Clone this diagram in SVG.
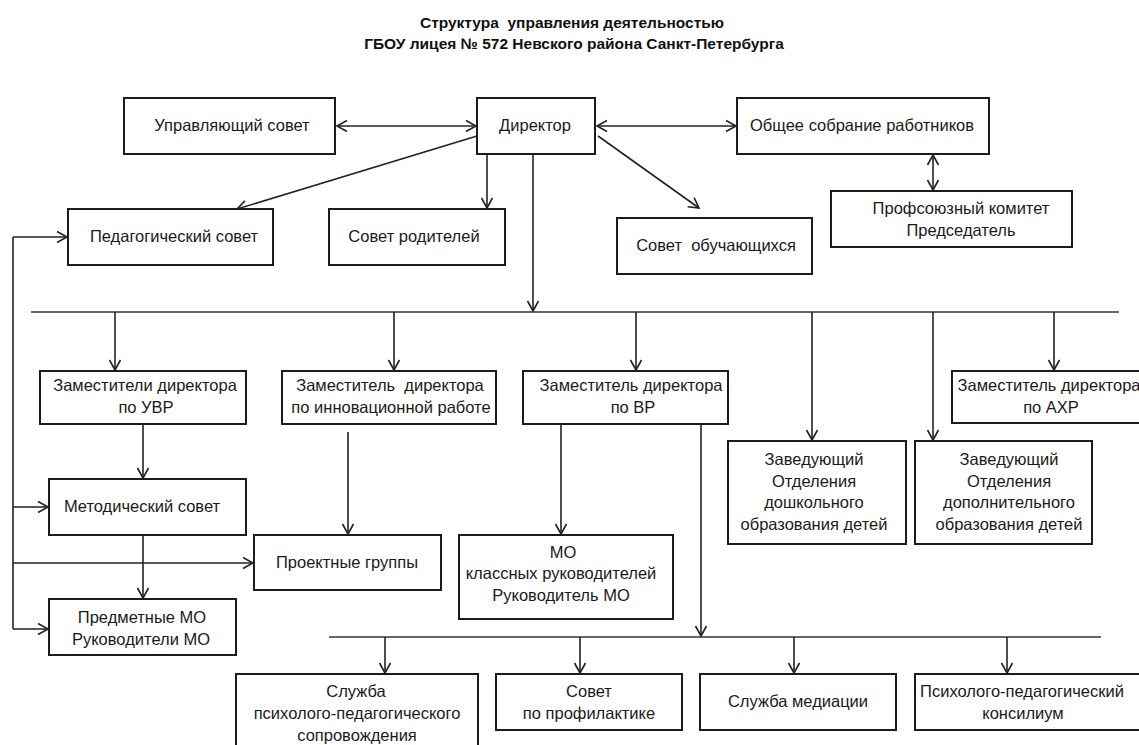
<svg xmlns="http://www.w3.org/2000/svg" width="1139" height="745" viewBox="0 0 1139 745">
<style>
.box{fill:#fff;stroke:#1c1c1c;stroke-width:2}
.t{font-family:"Liberation Sans",Arial,sans-serif;font-size:16.5px;fill:#1a1a1a;text-anchor:middle;white-space:pre}
.title{font-family:"Liberation Sans",Arial,sans-serif;font-size:15.5px;font-weight:bold;fill:#111;text-anchor:middle;white-space:pre}
.c{fill:none;stroke:#222;stroke-width:1.6}
.bus{fill:none;stroke:#333;stroke-width:1.6}
.a{marker-end:url(#ah)}
.aa{marker-end:url(#ah);marker-start:url(#ah)}
</style>
<defs>
<marker id="ah" markerUnits="userSpaceOnUse" markerWidth="12" markerHeight="12" refX="10" refY="5.5" orient="auto-start-reverse" viewBox="0 0 12 11" overflow="visible">
<path d="M0,0 L10,5.5 L0,11" fill="none" stroke="#222" stroke-width="1.6"/>
</marker>
</defs>
<rect width="1139" height="745" fill="#fff"/>
<g id="title">
<text class="title" x="572" y="28">Структура  управления деятельностью</text>
<text class="title" x="574" y="49">ГБОУ лицея № 572 Невского района Санкт-Петербурга</text>
</g>
<g id="connectors">
<path class="c aa" d="M337,126 H476"/>
<path class="c aa" d="M597,126 H736"/>
<path class="c a" d="M477,136 L237,209"/>
<path class="c a" d="M487,154 V208"/>
<path class="c a" d="M533,154 V311"/>
<path class="c a" d="M598,136 L699,208"/>
<path class="c aa" d="M933,155 V190"/>
<path class="bus" d="M31,312 H1119"/>
<path class="c a" d="M115,312 V370"/>
<path class="c a" d="M394,312 V370"/>
<path class="c a" d="M636,312 V370"/>
<path class="c a" d="M812,312 V440"/>
<path class="c a" d="M933,312 V440"/>
<path class="c a" d="M1054,312 V370"/>
<path class="c a" d="M143,424 V478"/>
<path class="c a" d="M143,535 V598"/>
<path class="c a" d="M348,432 V534"/>
<path class="c a" d="M561,424 V534"/>
<path class="c a" d="M701,424 V636"/>
<path class="bus" d="M329,637 H1101"/>
<path class="c a" d="M385,637 V673"/>
<path class="c a" d="M580,637 V673"/>
<path class="c a" d="M794,637 V673"/>
<path class="c a" d="M1007,637 V673"/>
<path class="c" d="M13,237 V629"/>
<path class="c a" d="M13,237 H67"/>
<path class="c a" d="M13,507 H48"/>
<path class="c a" d="M13,563 H253"/>
<path class="c a" d="M13,629 H48"/>
</g>
<g id="upr"><rect class="box" x="124" y="98" width="211" height="56"/><text class="t" x="232" y="131">Управляющий совет</text></g>
<g id="dir"><rect class="box" x="477" y="98" width="118" height="56"/><text class="t" x="535" y="131">Директор</text></g>
<g id="obsh"><rect class="box" x="737" y="98" width="252" height="56"/><text class="t" x="862" y="131">Общее собрание работников</text></g>
<g id="ped"><rect class="box" x="68" y="209" width="205" height="56"/><text class="t" x="174" y="242">Педагогический совет</text></g>
<g id="rod"><rect class="box" x="329" y="209" width="176" height="56"/><text class="t" x="414" y="242">Совет родителей</text></g>
<g id="obuch"><rect class="box" x="617" y="218" width="195" height="56"/><text class="t" x="716" y="251">Совет  обучающихся</text></g>
<g id="prof"><rect class="box" x="831" y="191" width="241" height="56"/><text class="t" x="961" y="214">Профсоюзный комитет</text><text class="t" x="961" y="236">Председатель</text></g>
<g id="uvr"><rect class="box" x="40" y="371" width="206" height="53"/><text class="t" x="145" y="391">Заместители директора</text><text class="t" x="146" y="413">по УВР</text></g>
<g id="innov"><rect class="box" x="282" y="371" width="214" height="53"/><text class="t" x="390" y="391">Заместитель  директора</text><text class="t" x="391" y="413">по инновационной работе</text></g>
<g id="vr"><rect class="box" x="523" y="371" width="205" height="53"/><text class="t" x="631" y="391">Заместитель директора</text><text class="t" x="633" y="413">по ВР</text></g>
<g id="axr"><rect class="box" x="952" y="371" width="195" height="52"/><text class="t" x="1049" y="391">Заместитель директора</text><text class="t" x="1051" y="413">по АХР</text></g>
<g id="zav1"><rect class="box" x="728" y="441" width="178" height="103"/><text class="t" x="814" y="465">Заведующий</text><text class="t" x="814" y="487">Отделения</text><text class="t" x="814" y="508">дошкольного</text><text class="t" x="814" y="530">образования детей</text></g>
<g id="zav2"><rect class="box" x="915" y="441" width="177" height="103"/><text class="t" x="1009" y="465">Заведующий</text><text class="t" x="1009" y="487">Отделения</text><text class="t" x="1009" y="508">дополнительного</text><text class="t" x="1009" y="530">образования детей</text></g>
<g id="metod"><rect class="box" x="49" y="479" width="197" height="56"/><text class="t" x="142" y="512">Методический совет</text></g>
<g id="pred"><rect class="box" x="49" y="599" width="187" height="56"/><text class="t" x="142" y="623">Предметные МО</text><text class="t" x="141" y="645">Руководители МО</text></g>
<g id="proekt"><rect class="box" x="254" y="535" width="187" height="55"/><text class="t" x="347" y="568">Проектные группы</text></g>
<g id="mo"><rect class="box" x="459" y="535" width="214" height="84"/><text class="t" x="563" y="558">МО</text><text class="t" x="561" y="579">классных руководителей</text><text class="t" x="561" y="601">Руководитель МО</text></g>
<g id="sluzhba"><rect class="box" x="236" y="674" width="242" height="90"/><text class="t" x="356" y="697">Служба</text><text class="t" x="357" y="719">психолого-педагогического</text><text class="t" x="357" y="741">сопровождения</text></g>
<g id="profil"><rect class="box" x="496" y="674" width="186" height="56"/><text class="t" x="589" y="697">Совет</text><text class="t" x="589" y="719">по профилактике</text></g>
<g id="med"><rect class="box" x="700" y="674" width="196" height="56"/><text class="t" x="798" y="707">Служба медиации</text></g>
<g id="konsil"><rect class="box" x="915" y="674" width="232" height="56"/><text class="t" x="1022" y="697">Психолого-педагогический</text><text class="t" x="1023" y="719">консилиум</text></g>
</svg>
